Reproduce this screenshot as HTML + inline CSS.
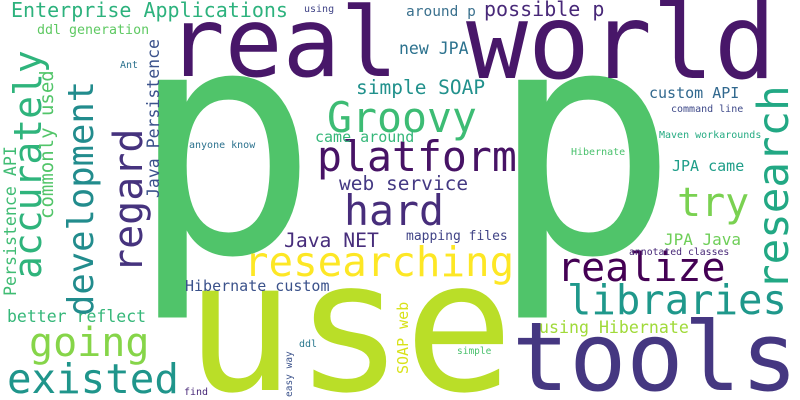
<!DOCTYPE html>
<html><head><meta charset="utf-8"><style>
html,body{margin:0;padding:0;background:#fff;width:800px;height:400px;overflow:hidden;}
svg{display:block;overflow:hidden;}
text{font-family:"DejaVu Sans Mono","Liberation Mono",monospace;}
</style></head><body>
<svg width="800" height="400" viewBox="0 0 800 400">
<rect width="800" height="400" fill="#fff"/>
<text x="129" y="252" font-size="315" fill="#50c46a">p</text>
<text x="489" y="252" font-size="315" fill="#50c46a">p</text>
<text x="185" y="390" font-size="182" fill="#bade28">use</text>
<text x="167" y="76" font-size="96" fill="#481769">real</text>
<text x="466" y="78" font-size="103" fill="#481769">world</text>
<text x="512" y="390" font-size="95" fill="#453781">tools</text>
<text x="327" y="132" font-size="41.5" fill="#3dbc74">Groovy</text>
<text x="317" y="171" font-size="41.5" fill="#471365">platform</text>
<text x="344" y="225" font-size="41.5" fill="#472d7b">hard</text>
<text x="11" y="17" font-size="20" fill="#2db27d">Enterprise Applications</text>
<text x="37" y="34" font-size="13.3" fill="#5ec962">ddl generation</text>
<text x="304" y="12" font-size="10" fill="#414487">using</text>
<text x="406" y="16" font-size="14.5" fill="#3b718e">around p</text>
<text x="484" y="16" font-size="20" fill="#482878">possible p</text>
<text x="399" y="54" font-size="16.5" fill="#2c728e">new JPA</text>
<text x="356" y="94" font-size="19.5" fill="#21918c">simple SOAP</text>
<text x="315" y="142" font-size="15" fill="#35b779">came around</text>
<text x="339" y="190" font-size="19.5" fill="#443983">web service</text>
<text x="649" y="98" font-size="15" fill="#31688e">custom API</text>
<text x="671" y="112" font-size="10" fill="#3e4989">command line</text>
<text x="659" y="138" font-size="10" fill="#25ab82">Maven workarounds</text>
<text x="571" y="155" font-size="10" fill="#4ac16d">Hibernate</text>
<text x="672" y="171" font-size="15" fill="#1f9e89">JPA came</text>
<text transform="translate(788,290) rotate(-90)" font-size="42.5" fill="#22a884">research</text>
<text x="677" y="216" font-size="40" fill="#7ad151">try</text>
<text x="557" y="281" font-size="40" fill="#440154">realize</text>
<text x="567" y="314" font-size="40.6" fill="#1f988b">libraries</text>
<text x="244" y="276" font-size="40.8" fill="#fde725">researching</text>
<text x="284" y="247" font-size="19.7" fill="#472d7b">Java NET</text>
<text x="406" y="240" font-size="13" fill="#414487">mapping files</text>
<text x="664" y="245" font-size="16" fill="#6ece58">JPA Java</text>
<text x="629" y="255" font-size="9.8" fill="#482878">annotated classes</text>
<text x="185" y="291" font-size="15" fill="#3b528b">Hibernate custom</text>
<text x="7" y="322" font-size="16.5" fill="#35b779">better reflect</text>
<text x="29" y="356" font-size="40" fill="#86d549">going</text>
<text x="7" y="393" font-size="40.8" fill="#1f958b">existed</text>
<text x="539" y="333" font-size="16.6" fill="#a0da39">using Hibernate</text>
<text x="457" y="354" font-size="9.5" fill="#4ac16d">simple</text>
<text x="299" y="347" font-size="10" fill="#2a788e">ddl</text>
<text x="184" y="395" font-size="10" fill="#482878">find</text>
<text x="120" y="68" font-size="10" fill="#2c728e">Ant</text>
<text x="189" y="148" font-size="10" fill="#2c728e">anyone know</text>
<text transform="translate(292,397) rotate(-90)" font-size="9.5" fill="#3b528b">easy way</text>
<text transform="translate(408,374) rotate(-90)" font-size="15" fill="#d8e219">SOAP web</text>
<text transform="translate(142,273) rotate(-90)" font-size="40" fill="#46337e">regard</text>
<text transform="translate(93,316) rotate(-90)" font-size="35.5" fill="#228c8d">development</text>
<text transform="translate(41,279) rotate(-90)" font-size="38" fill="#2fb47c">accurately</text>
<text transform="translate(53,219) rotate(-90)" font-size="19" fill="#52c569">commonly used</text>
<text transform="translate(16,296) rotate(-90)" font-size="16.6" fill="#3fbc73">Persistence API</text>
<text transform="translate(159,198) rotate(-90)" font-size="16.5" fill="#3b528b">Java Persistence</text>
</svg>
</body></html>
